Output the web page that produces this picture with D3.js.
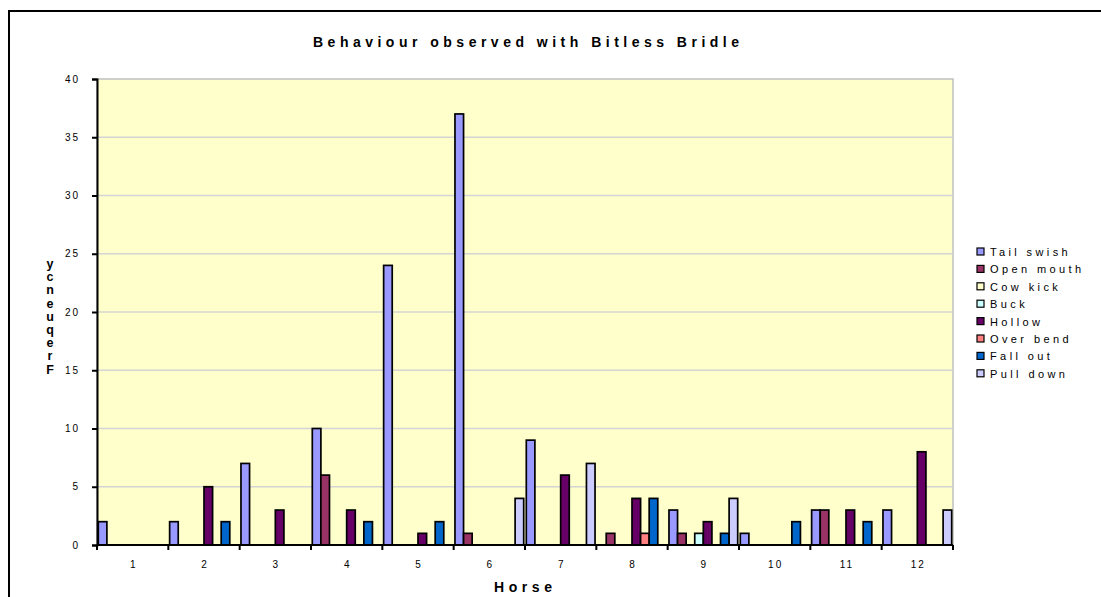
<!DOCTYPE html>
<html>
<head>
<meta charset="utf-8">
<script src="https://cdn.jsdelivr.net/npm/d3@7"></script>
<style>
  body { margin: 0; background: #fff; }
  text { font-family: "Liberation Sans", Arial, sans-serif; fill: #000; }
</style>
</head>
<body>
<svg id="chart" width="1101" height="597"></svg>
<script>
// ------ Data
var horses = ["1","2","3","4","5","6","7","8","9","10","11","12"];
var seriesNames = ["Tail swish","Open mouth","Cow kick","Buck","Hollow","Over bend","Fall out","Pull down"];
var seriesColors = ["#9999FF","#993366","#FFFFCC","#CCFFFF","#660066","#FF8080","#0066CC","#CCCCFF"];
var tailSwish = [2,2,7,10,24,37,9,0,3,1,3,3];
var openMouth = [0,0,0,6,0,1,0,1,1,0,3,0];
var cowKick   = [0,0,0,0,0,0,0,0,0,0,0,0];
var buck      = [0,0,0,0,0,0,0,0,1,0,0,0];
var hollow    = [0,5,3,3,1,0,6,4,2,0,3,8];
var overBend  = [0,0,0,0,0,0,0,1,0,0,0,0];
var fallOut   = [0,2,0,2,2,0,0,4,1,2,2,0];
var pullDown  = [0,0,0,0,0,4,7,0,4,0,0,3];
var yTicks = [0,5,10,15,20,25,30,35,40];

var seriesValues = [tailSwish, openMouth, cowKick, buck, hollow, overBend, fallOut, pullDown];

// Margins and sizes
var plot = {left: 97, right: 953, top: 79, bottom: 545};

var svg = d3.select("#chart");

// outer frame (runs off the right/bottom of the window)
svg.append("rect")
  .attr("x", 9).attr("y", 11)
  .attr("width", 1110).attr("height", 610)
  .style("fill", "none").style("stroke", "#000").style("stroke-width", 2);

// ------- Scales
var xScale = d3.scaleBand().domain(horses).range([plot.left, plot.right]).padding(0);
var xInner = d3.scaleBand().domain(seriesNames).range([1.3, xScale.bandwidth() - 1.3]).padding(0);
var yScale = d3.scaleLinear().domain([0, 40]).range([plot.bottom, plot.top]);

// plot area background
svg.append("rect")
  .attr("x", plot.left).attr("y", plot.top)
  .attr("width", plot.right - plot.left).attr("height", plot.bottom - plot.top)
  .style("fill", "#FFFFCC").style("stroke", "#C0C0C0").style("stroke-width", 1.5);

// gridlines
svg.selectAll(".grid")
  .data(yTicks.filter(function(t) { return t > 0 && t < 40; }))
  .enter().append("line")
  .attr("class", "grid")
  .attr("x1", plot.left).attr("x2", plot.right)
  .attr("y1", function(d) { return yScale(d); })
  .attr("y2", function(d) { return yScale(d); })
  .style("stroke", "#D4D4D4").style("stroke-width", 1.5);

// ------- Bars
var barData = [];
horses.forEach(function(h, i) {
  seriesNames.forEach(function(s, j) {
    if (seriesValues[j][i] > 0) barData.push({horse: h, series: s, value: seriesValues[j][i], color: seriesColors[j]});
  });
});

svg.selectAll(".bar")
  .data(barData)
  .enter().append("rect")
  .attr("class", "bar")
  .attr("x", function(d) { return xScale(d.horse) + xInner(d.series); })
  .attr("width", xInner.bandwidth())
  .attr("y", function(d) { return yScale(d.value); })
  .attr("height", function(d) { return yScale(0) - yScale(d.value); })
  .style("fill", function(d) { return d.color; })
  .style("stroke", "#000").style("stroke-width", 1.7);

// ------- Axes
var yAxis = d3.axisLeft(yScale).tickValues(yTicks).tickSize(5).tickPadding(12);
var gy = svg.append("g")
  .attr("transform", "translate(" + plot.left + ",0)")
  .call(yAxis);
gy.select(".domain").style("stroke", "#000").style("stroke-width", 2);
gy.selectAll(".tick line").style("stroke", "#000").style("stroke-width", 2);
gy.selectAll(".tick text")
  .style("font-size", "10px").style("letter-spacing", "2px")
  .style("font-family", "'Liberation Sans', Arial, sans-serif").style("fill", "#000");

var gx = svg.append("g")
  .attr("transform", "translate(0," + plot.bottom + ")");
gx.append("line")
  .attr("x1", plot.left).attr("x2", plot.right)
  .style("stroke", "#000").style("stroke-width", 2);
// ticks on category boundaries
gx.selectAll(".xtick")
  .data(horses.concat(["end"]))
  .enter().append("line")
  .attr("class", "xtick")
  .attr("x1", function(d, i) { return plot.left + i * xScale.step(); })
  .attr("x2", function(d, i) { return plot.left + i * xScale.step(); })
  .attr("y1", 0).attr("y2", 5)
  .style("stroke", "#000").style("stroke-width", 2);
gx.selectAll(".xlabel")
  .data(horses)
  .enter().append("text")
  .attr("class", "xlabel")
  .attr("x", function(d) { return xScale(d) + xScale.bandwidth() / 2 + 1; })
  .attr("y", 23)
  .style("text-anchor", "middle")
  .style("font-size", "10px").style("letter-spacing", "2px")
  .text(function(d) { return d; });

// ------- Titles
svg.append("text")
  .attr("x", 313).attr("y", 47)
  .attr("textLength", 426).attr("lengthAdjust", "spacing")
  .style("font-size", "14px").style("font-weight", "bold")
  .text("Behaviour observed with Bitless Bridle");

svg.append("text")
  .attr("x", 494).attr("y", 592)
  .attr("textLength", 58).attr("lengthAdjust", "spacing")
  .style("font-size", "14px").style("font-weight", "bold")
  .text("Horse");

// stacked y label (Excel stacks "Frequency" letter by letter, reading bottom to top)
var yLabelChars = ["y","c","n","e","u","q","e","r","F"];
svg.append("text")
  .attr("class", "ylab")
  .style("text-anchor", "middle")
  .style("font-size", "12.5px").style("font-weight", "bold")
  .selectAll("tspan")
  .data(yLabelChars)
  .enter().append("tspan")
  .attr("x", 50)
  .attr("y", function(d, i) { return 268 + i * 13.2; })
  .text(function(d) { return d; });

// ------- Legend
var legend = svg.selectAll(".legend")
  .data(seriesNames)
  .enter().append("g")
  .attr("class", "legend")
  .attr("transform", function(d, i) { return "translate(977," + (248 + i * 17.4) + ")"; });
legend.append("rect")
  .attr("width", 7).attr("height", 7)
  .style("fill", function(d, i) { return seriesColors[i]; })
  .style("stroke", "#000").style("stroke-width", 1.2);
legend.append("text")
  .attr("x", 13).attr("y", 8)
  .style("font-size", "11px").style("letter-spacing", "3.4px")
  .text(function(d) { return d; });
</script>
</body>
</html>
